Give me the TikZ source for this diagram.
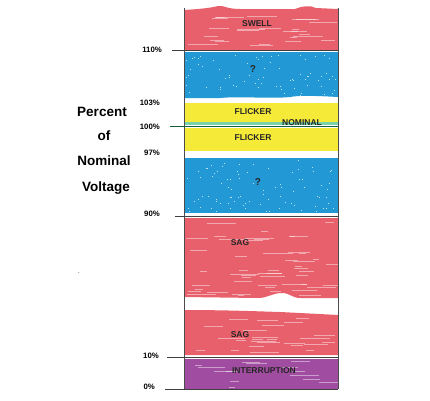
\documentclass[tikz,border=0pt]{standalone}
\usepackage{fontspec}
\setmainfont{Liberation Sans}
\definecolor{swellred}{RGB}{232,96,108}
\definecolor{skyblue}{RGB}{34,152,212}
\definecolor{flickyel}{RGB}{246,234,56}
\definecolor{interpurple}{RGB}{160,76,160}
\definecolor{nomgreen}{RGB}{20,95,60}
\definecolor{nomlight}{RGB}{120,210,170}
\begin{document}
\begin{tikzpicture}[x=1pt,y=-1pt,
  pct/.style={font=\bfseries\fontsize{7.8}{8}\selectfont, anchor=east, inner sep=0pt},
  band/.style={font=\bfseries\fontsize{8.5}{9}\selectfont, text=black!85, inner sep=0pt},
  title/.style={font=\bfseries\fontsize{13.5}{14}\selectfont, inner sep=0pt},
  level/.style={draw=black!75, line width=0.8pt},
  edge/.style={draw=black!70, line width=0.7pt},
  streak/.style={draw=white, opacity=0.45, line width=0.9pt},
  speck/.style={fill=white, opacity=0.7}]
\useasboundingbox (0,0) rectangle (430,400);
\pgfmathsetseed{7}
% bands
\fill[swellred] (184,10) .. controls (200,9) and (210,8) .. (218,6) .. controls (224,5) and (226,9) .. (240,9)
  -- (295,9) .. controls (302,6) and (310,5) .. (316,8) -- (338,9) -- (338,50) -- (184,50) -- cycle;
\fill[skyblue] (184,52) -- (338,52) -- (338,97) .. controls (320,96) and (300,95) .. (290,97)
  .. controls (270,99) and (240,96) .. (220,98) -- (184,98) -- cycle;
\fill[flickyel] (184,103) -- (338,103) -- (338,122) -- (184,122) -- cycle;
\fill[flickyel] (184,128) -- (338,128) -- (338,151) -- (184,151) -- cycle;
\fill[skyblue] (184,158) -- (338,158) -- (338,213) -- (184,213) -- cycle;
\fill[swellred] (184,218) -- (338,218) -- (338,298) -- (300,298) .. controls (292,298) and (290,293) .. (282,293)
  .. controls (272,293) and (268,298) .. (258,298) -- (184,297) -- cycle;
\fill[swellred] (184,310) .. controls (220,310) and (250,311) .. (280,312) .. controls (300,313) and (320,314) .. (338,315)
  -- (338,355) -- (184,355) -- cycle;
\fill[interpurple] (184,359) rectangle (338,389);
% texture: streaks on red and purple, specks on blue
\foreach \ya/\yb/\n in {12/48/25, 220/295/50, 316/352/25, 361/387/14}{
  \foreach \k in {1,...,\n}{
    \pgfmathsetmacro{\sx}{186+random(0,140)}
    \pgfmathsetmacro{\sy}{\ya+random(0,\yb-\ya)}
    \pgfmathsetmacro{\sl}{6+random(0,24)}
    \draw[streak] (\sx,\sy) -- ++(\sl,0);
  }
}
\foreach \ya/\yb/\n in {54/95/70, 160/211/85}{
  \foreach \k in {1,...,\n}{
    \pgfmathsetmacro{\sx}{186+random(0,150)}
    \pgfmathsetmacro{\sy}{\ya+random(0,\yb-\ya)}
    \fill[speck] (\sx,\sy) rectangle ++(1.2,0.8);
  }
}
% nominal band
\fill[nomlight] (184,122) rectangle (338,125);
% edges
\draw[edge] (184,8) -- (184,389);
\draw[edge] (338,8) -- (338,389);
% level lines
\coordinate (l110) at (172,50);  \coordinate (r110) at (338,50);
\coordinate (l100) at (170,126.5); \coordinate (r100) at (338,126.5);
\coordinate (l90) at (175,216);  \coordinate (r90) at (338,216);
\coordinate (l10) at (167,357);  \coordinate (r10) at (338,357);
\coordinate (l0) at (165,389);   \coordinate (r0) at (338,389);
\draw[level] (l110) -- (r110);
\draw[draw=nomgreen, line width=1.6pt] (l100) -- (r100);
\draw[level] (l90) -- (r90);
\draw[level] (l10) -- (r10);
\draw[level] (l0) -- (r0);
% percent labels
\node[pct] (p110) at (162,50) {110\%};
\node[pct] (p103) at (160,103) {103\%};
\node[pct] (p100) at (160,127) {100\%};
\node[pct] (p97) at (160,153) {97\%};
\node[pct] (p90) at (160,214) {90\%};
\node[pct] (p10) at (159,356) {10\%};
\node[pct] (p0) at (155,387) {0\%};
% title
\node[title] (t1) at (102,112) {Percent};
\node[title] (t2) at (104,136) {of};
\node[title] (t3) at (104,161) {Nominal};
\node[title] (t4) at (106,188) {Voltage};
\node[inner sep=0pt, font=\fontsize{6}{6}\selectfont] (dot) at (79,273) {.};
% band labels
\node[band] (swell) at (257,24) {SWELL};
\node[band, font=\bfseries\fontsize{10}{10}\selectfont] (q1) at (253,69) {?};
\node[band] (fl1) at (253,112) {FLICKER};
\node[band] (nom) at (302,123) {NOMINAL};
\node[band] (fl2) at (253,138) {FLICKER};
\node[band, font=\bfseries\fontsize{10}{10}\selectfont] (q2) at (258,182) {?};
\node[band] (sag1) at (240,243) {SAG};
\node[band] (sag2) at (240,335) {SAG};
\node[band] (intr) at (264,371) {INTERRUPTION};
\end{tikzpicture}
\end{document}
